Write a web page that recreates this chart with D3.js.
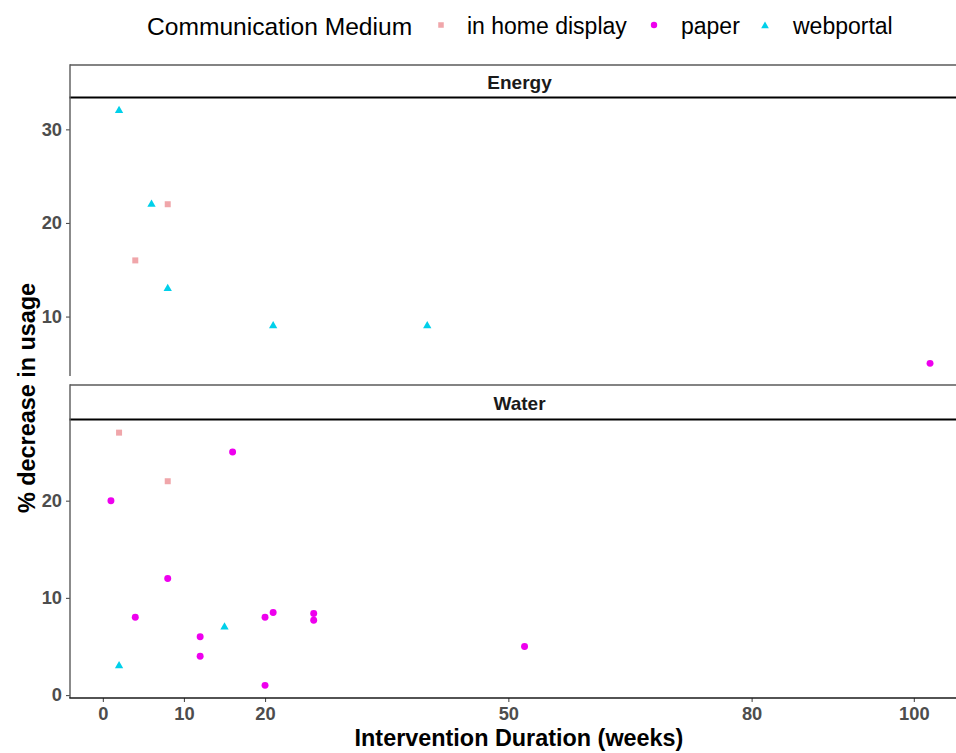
<!DOCTYPE html>
<html>
<head>
<meta charset="utf-8">
<script src="https://cdn.jsdelivr.net/npm/d3@7/dist/d3.min.js"></script>
<style>
  html, body { margin: 0; padding: 0; background: #fff; }
  svg { display: block; font-family: "Liberation Sans", Arial, sans-serif; }
</style>
</head>
<body>
<svg id="chart" width="956" height="753"></svg>
<script>
// Study records: sector, communication medium, duration (weeks), % decrease
const sector = [
  "Energy","Energy","Energy","Energy","Energy","Energy","Energy","Energy",
  "Water","Water","Water","Water","Water","Water","Water","Water",
  "Water","Water","Water","Water","Water","Water","Water","Water"
];
const medium = [
  "webportal","webportal","webportal","webportal","webportal",
  "in home display","in home display","paper",
  "in home display","in home display",
  "paper","paper","paper","paper","paper","paper","paper","paper","paper","paper","paper","paper",
  "webportal","webportal"
];
const duration = [
  2, 6, 8, 21, 40,
  8, 4, 102,
  2, 8,
  16, 1, 8, 4, 20, 21, 26, 26, 12, 12, 20, 52,
  15, 2
];
const decrease = [
  32, 22, 13, 9, 9,
  22, 16, 5,
  27, 22,
  25, 20, 12, 8, 8, 8.5, 8.4, 7.7, 6, 4, 1, 5,
  7, 3
];

const facets = ["Energy", "Water"];
const mediaLevels = ["in home display", "paper", "webportal"];
const xTicks = [0, 10, 20, 50, 80, 100];
const yTicksByFacet = { Energy: [10, 20, 30], Water: [0, 10, 20] };

const rows = duration.map((d, i) => ({
  sector: sector[i], medium: medium[i], x: d, y: decrease[i]
}));

const color = d3.scaleOrdinal().domain(mediaLevels)
  .range(["#f0a6aa", "#ee00ee", "#00d0ea"]);
const shape = d3.scaleOrdinal().domain(mediaLevels)
  .range([d3.symbolSquare, d3.symbolCircle, d3.symbolTriangle]);
const symSize = { "in home display": 36, "paper": 38, "webportal": 30 };

const svg = d3.select("#chart");

// layout
const panelLeft = 70, panelRight = 971;
const layout = {
  Energy: { stripTop: 65, top: 98, bottom: 376 },
  Water:  { stripTop: 385, top: 420, bottom: 698 }
};

// shared x scale with 5% expansion
const xExt = d3.extent(duration);
const xPad = (xExt[1] - xExt[0]) * 0.05;
const x = d3.scaleLinear().domain([xExt[0] - xPad, xExt[1] + xPad])
  .range([panelLeft, panelRight]);

const axisColor = "#4d4d4d";
const tickText = "#4d4d4d";
const tickFont = 18.3;

facets.forEach(f => {
  const L = layout[f];
  const sub = rows.filter(r => r.sector === f);
  const yExt = d3.extent(sub, r => r.y);
  const yPad = (yExt[1] - yExt[0]) * 0.05;
  const y = d3.scaleLinear().domain([yExt[0] - yPad, yExt[1] + yPad])
    .range([L.bottom, L.top]);

  const g = svg.append("g");

  // strip
  g.append("line").attr("x1", panelLeft).attr("x2", 960)
    .attr("y1", L.stripTop).attr("y2", L.stripTop)
    .attr("stroke", "#5a5a5a").attr("stroke-width", 1.4);
  g.append("line").attr("x1", panelLeft - 0.5).attr("x2", 960)
    .attr("y1", L.top - 0.5).attr("y2", L.top - 0.5)
    .attr("stroke", "#000").attr("stroke-width", 2);
  g.append("text").attr("x", (panelLeft + panelRight) / 2 - 1)
    .attr("y", (L.stripTop + L.top) / 2 + 7)
    .attr("text-anchor", "middle").attr("font-weight", "bold")
    .attr("font-size", 19).attr("fill", "#1a1a1a").text(f);

  // y axis
  const yAxis = d3.axisLeft(y).tickValues(yTicksByFacet[f]).tickSize(4).tickPadding(4);
  const ya = g.append("g").attr("transform", `translate(${panelLeft},0)`).call(yAxis);
  ya.select(".domain").remove();
  ya.selectAll(".tick line").attr("stroke", axisColor).attr("stroke-width", 1.1);
  ya.selectAll(".tick text").attr("fill", tickText).attr("font-size", tickFont)
    .attr("font-weight", "bold").attr("font-family", "Liberation Sans, Arial, sans-serif");
  g.append("line").attr("x1", panelLeft).attr("x2", panelLeft)
    .attr("y1", L.stripTop - 0.7).attr("y2", L.bottom)
    .attr("stroke", "#5a5a5a").attr("stroke-width", 1.4);

  // bottom axis only on last panel
  if (f === facets[facets.length - 1]) {
    const xAxis = d3.axisBottom(x).tickValues(xTicks).tickSize(4).tickPadding(5);
    const xa = g.append("g").attr("transform", `translate(0,${L.bottom})`).call(xAxis);
    xa.select(".domain").remove();
    xa.selectAll(".tick line").attr("stroke", axisColor).attr("stroke-width", 1.1);
    xa.selectAll(".tick text").attr("fill", tickText).attr("font-size", tickFont)
      .attr("font-weight", "bold").attr("font-family", "Liberation Sans, Arial, sans-serif");
    g.append("line").attr("x1", panelLeft - 0.7).attr("x2", 960)
      .attr("y1", L.bottom).attr("y2", L.bottom)
      .attr("stroke", "#1a1a1a").attr("stroke-width", 1.3);
  }

  // points
  g.selectAll("path.pt").data(sub).join("path")
    .attr("class", "pt")
    .attr("transform", r => `translate(${x(r.x)},${y(r.y)})`)
    .attr("d", r => d3.symbol(shape(r.medium), symSize[r.medium])())
    .attr("fill", r => color(r.medium));
});

// axis titles
svg.append("text").attr("x", 519).attr("y", 746)
  .attr("text-anchor", "middle").attr("font-weight", "bold")
  .attr("font-size", 23.4).attr("fill", "#000")
  .text("Intervention Duration (weeks)");
svg.append("text")
  .attr("transform", "translate(35,398) rotate(-90)")
  .attr("text-anchor", "middle").attr("font-weight", "bold")
  .attr("font-size", 23.4).attr("fill", "#000")
  .text("% decrease in usage");

// legend
const leg = svg.append("g");
leg.append("text").attr("x", 147).attr("y", 35)
  .attr("font-size", 24.6).attr("fill", "#000").text("Communication Medium");
const keyX = [441, 654, 765];
const labX = [467, 681, 793];
mediaLevels.forEach((m, i) => {
  leg.append("path")
    .attr("transform", `translate(${keyX[i]},${i === 2 ? 26 : 25})`)
    .attr("d", d3.symbol(shape(m), symSize[m] * 0.85)())
    .attr("fill", color(m));
  leg.append("text").attr("x", labX[i]).attr("y", 34)
    .attr("font-size", 23).attr("fill", "#000").text(m);
});
</script>
</body>
</html>
